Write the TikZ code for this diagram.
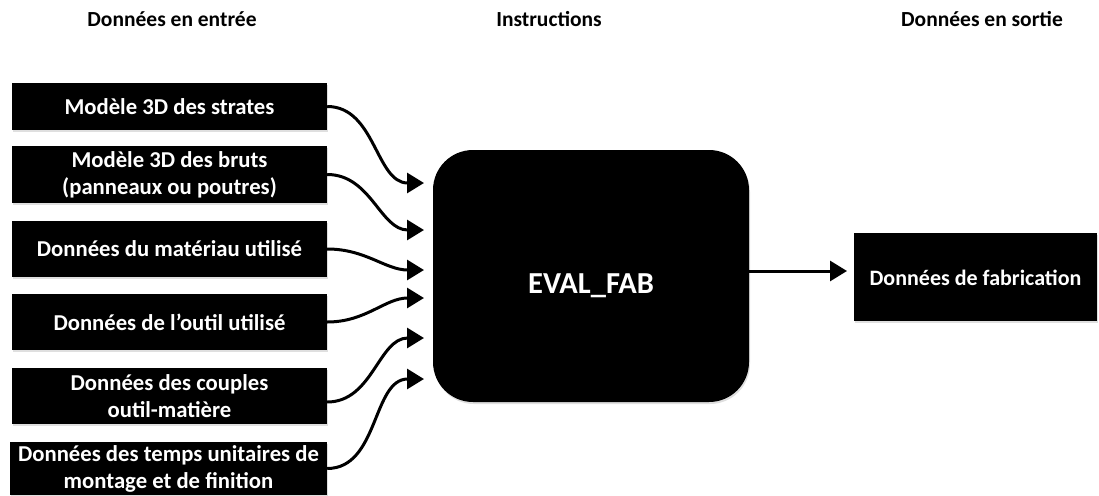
\documentclass[tikz,border=0pt]{standalone}
\usepackage{fontspec}
\setmainfont{Carlito}
\usetikzlibrary{arrows.meta,shadows}
\begin{document}
\begin{tikzpicture}[x=1pt,y=-1pt,
  inbox/.style={fill=black,text=white,font=\fontsize{22.7}{27}\selectfont\bfseries,
    minimum width=315pt,inner sep=0pt,align=center,
    drop shadow={shadow xshift=1pt,shadow yshift=-2pt,opacity=0.25}},
  hdr/.style={font=\fontsize{21.5}{24}\selectfont\bfseries,anchor=base,inner sep=0pt},
  link/.style={line width=3pt,-{Triangle[length=17pt,width=20pt]}},
]
\useasboundingbox (0,0) rectangle (1099,495);
% headers
\node[hdr] (h1) at (172,27) {Données en entrée};
\node[hdr] (h2) at (549,27) {Instructions};
\node[hdr] (h3) at (982,27) {Données en sortie};
% input boxes
\node[inbox,minimum height=47pt] (b1) at (169.5,106.5) {Modèle 3D des strates};
\node[inbox,minimum height=57pt] (b2) at (169.5,174.5) {Modèle 3D des bruts\\(panneaux ou poutres)};
\node[inbox,minimum height=56pt] (b3) at (169.5,249) {Données du matériau utilisé};
\node[inbox,minimum height=56pt] (b4) at (169.5,322) {Données de l’outil utilisé};
\node[inbox,minimum height=56pt] (b5) at (169.5,396) {Données des couples\\outil-matière};
\node[inbox,minimum height=53pt,minimum width=317pt] (b6) at (168.5,468.5) {Données des temps unitaires de\\montage et de finition};
% center box
\node[fill=black,text=white,rounded corners=40pt,minimum width=316pt,minimum height=252pt,
  inner sep=0pt,font=\fontsize{30.5}{34}\selectfont\bfseries,
  drop shadow={shadow xshift=1pt,shadow yshift=-2pt,opacity=0.25}] (ev) at (591,276) {\raisebox{-17pt}[0pt][0pt]{EVAL\_FAB}};
% output box
\node[inbox,font=\fontsize{22}{26}\selectfont\bfseries,minimum width=243pt,minimum height=88pt] (out) at (975.5,277) {\raisebox{-8pt}[0pt][0pt]{Données de fabrication}};
% arrow tips
\coordinate (t1) at (424,183);
\coordinate (t2) at (424,230);
\coordinate (t3) at (424,270);
\coordinate (t4) at (424,298);
\coordinate (t5) at (424,338);
\coordinate (t6) at (424,379);
\coordinate (to) at (847,271);
\draw[link] (b1.east) to[out=0,in=180] (t1);
\draw[link] (b2.east) to[out=0,in=180] (t2);
\draw[link] (b3.east) to[out=0,in=180] (t3);
\draw[link] (b4.east) to[out=0,in=180] (t4);
\draw[link] ([yshift=-6pt]b5.east) to[out=0,in=180] (t5);
\draw[link] (b6.east) to[out=0,in=180] (t6);
\draw[link] (ev.east |- to) -- (to);
\end{tikzpicture}
\end{document}
